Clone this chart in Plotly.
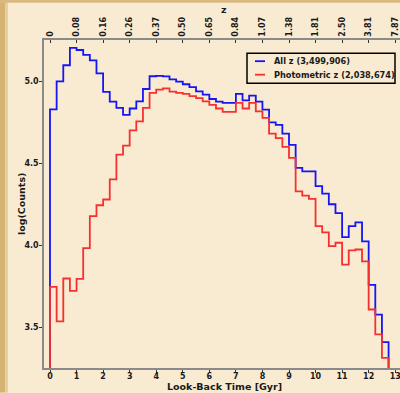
import plotly.graph_objects as go

# ---- data ----
bin_width = 0.25  # Gyr
all_z = [4.829, 5.000, 5.098, 5.204, 5.191, 5.161, 5.128, 5.049, 4.935, 4.876,
         4.838, 4.795, 4.834, 4.878, 4.953, 5.031, 5.033, 5.030, 5.012, 4.998,
         4.982, 4.964, 4.939, 4.919, 4.892, 4.876, 4.868, 4.868, 4.923, 4.884,
         4.913, 4.876, 4.827, 4.750, 4.734, 4.681, 4.612, 4.472, 4.451, 4.451,
         4.360, 4.315, 4.250, 4.196, 4.049, 4.116, 4.140, 4.023, 3.758, 3.577,
         3.409]
phot_z = [3.746, 3.535, 3.797, 3.722, 3.795, 3.982, 4.177, 4.244, 4.279, 4.402,
          4.553, 4.608, 4.701, 4.756, 4.838, 4.929, 4.949, 4.957, 4.937, 4.929,
          4.923, 4.909, 4.897, 4.878, 4.856, 4.834, 4.813, 4.813, 4.868, 4.834,
          4.868, 4.817, 4.777, 4.681, 4.653, 4.600, 4.533, 4.329, 4.303, 4.283,
          4.116, 4.079, 3.994, 4.015, 3.882, 3.968, 3.974, 3.902, 3.608, 3.456,
          3.313]
lookback_ticks = [0, 1, 2, 3, 4, 5, 6, 7, 8, 9, 10, 11, 12, 13]
z_labels = ["0", "0.08", "0.16", "0.26", "0.37", "0.50", "0.65", "0.84",
            "1.07", "1.38", "1.81", "2.50", "3.81", "7.87"]
y_ticks = [3.5, 4.0, 4.5, 5.0]
series_names = ["All z (3,499,906)", "Photometric z (2,038,674)"]
series_colors = ["#1515f5", "#f53030"]

BG = "#F9EBD1"
FONT = "DejaVu Sans"
FLOOR = 3.0
XR = [-0.226, 13.18]
YR = [3.251, 5.252]

# plot-area geometry in pixels
W, H = 400, 393
ML, MT, MB = 44, 40.3, 24.5
PW = W - ML
PH = H - MT - MB


def px_x(px):
    return (px - ML) / PW


def px_y(py):
    return 1 - (py - MT) / PH


def step_xy(vals):
    left = [i * bin_width for i in range(len(vals))]
    end = len(vals) * bin_width
    xs = [0.0] + left + [end, end]
    ys = [FLOOR] + list(vals) + [vals[-1], FLOOR]
    return xs, ys


fig = go.Figure()
for vals, name, col in zip([all_z, phot_z], series_names, series_colors):
    xs, ys = step_xy(vals)
    fig.add_trace(go.Scatter(x=xs, y=ys, mode="lines", name=name,
                             showlegend=False,
                             line=dict(color=col, width=1.8, shape="hv")))

# invisible trace to anchor the top (redshift) axis
fig.add_trace(go.Scatter(x=[0], y=[4], xaxis="x2", mode="markers",
                         marker=dict(opacity=0), showlegend=False,
                         hoverinfo="skip"))

DARK = "#1a1a1a"
tick_font = dict(family=FONT, size=8, color=DARK, weight="bold")
title_font = dict(family=FONT, size=9.5, color=DARK, weight="bold")
axis_common = dict(showgrid=False, zeroline=False, showline=True,
                   linecolor="#8a8a8a", linewidth=1.5, tickcolor="#333",
                   ticklen=3, tickfont=tick_font, automargin=False,
                   ticklabeloverflow="allow")

fig.update_layout(
    width=W, height=H,
    margin=dict(l=ML, r=0, t=MT, b=MB),
    paper_bgcolor=BG, plot_bgcolor=BG,
    font=dict(family=FONT),
    showlegend=False,
    xaxis=dict(range=XR, tickvals=lookback_ticks, ticks="outside",
               ticklabelstandoff=-3, **axis_common),
    xaxis2=dict(range=XR, overlaying="x", side="top",
                tickvals=lookback_ticks, ticktext=z_labels, tickangle=-90,
                ticks="inside", **axis_common),
    yaxis=dict(range=YR, tickvals=y_ticks, tickformat=".1f", ticks="outside",
               ticklabelstandoff=-1, **axis_common),
)

# axis titles
fig.add_annotation(text="Look-Back Time [Gyr]", xref="paper", yref="paper",
                   x=px_x(224), y=px_y(387.5), showarrow=False,
                   font=title_font, xanchor="center", yanchor="middle")
fig.add_annotation(text="z", xref="paper", yref="paper",
                   x=px_x(224), y=px_y(10), showarrow=False,
                   font=title_font, xanchor="center", yanchor="middle")
fig.add_annotation(text="log(Counts)", xref="paper", yref="paper",
                   x=px_x(21.5), y=px_y(204), showarrow=False, textangle=-90,
                   font=title_font, xanchor="center", yanchor="middle")

# legend box (drawn by hand to match the compact matplotlib legend)
LX0, LX1, LY0, LY1 = 247, 395, 53.5, 83.5
fig.add_shape(type="rect", xref="paper", yref="paper",
              x0=px_x(LX0), x1=px_x(LX1), y0=px_y(LY1), y1=px_y(LY0),
              fillcolor=BG, line=dict(color="#000000", width=1.5))
for i, (name, col) in enumerate(zip(series_names, series_colors)):
    yy = 61.5 + i * 13.5
    fig.add_shape(type="line", xref="paper", yref="paper",
                  x0=px_x(255), x1=px_x(265), y0=px_y(yy), y1=px_y(yy),
                  line=dict(color=col, width=1.8))
    fig.add_annotation(text=name, xref="paper", yref="paper",
                       x=px_x(272), y=px_y(yy), showarrow=False,
                       xanchor="left", yanchor="middle",
                       font=dict(family=FONT, size=8.2, color=DARK,
                                 weight="bold"))

# decorative gold frame on the left and top of the picture
fig.add_shape(type="rect", xref="paper", yref="paper",
              x0=px_x(0), x1=px_x(5), y0=px_y(H), y1=px_y(0),
              fillcolor="#D6B273", line_width=0, layer="below")
fig.add_shape(type="rect", xref="paper", yref="paper",
              x0=px_x(5), x1=px_x(8), y0=px_y(H), y1=px_y(0),
              fillcolor="#E8CF9E", line_width=0, layer="below")
fig.add_shape(type="rect", xref="paper", yref="paper",
              x0=px_x(0), x1=px_x(W), y0=px_y(3), y1=px_y(0),
              fillcolor="#D9B97F", line_width=0, layer="below")

fig.write_html("out.html",
               config={"displayModeBar": False},
               post_script="document.body.style.margin='0';"
                           "document.body.style.overflow='hidden';")
